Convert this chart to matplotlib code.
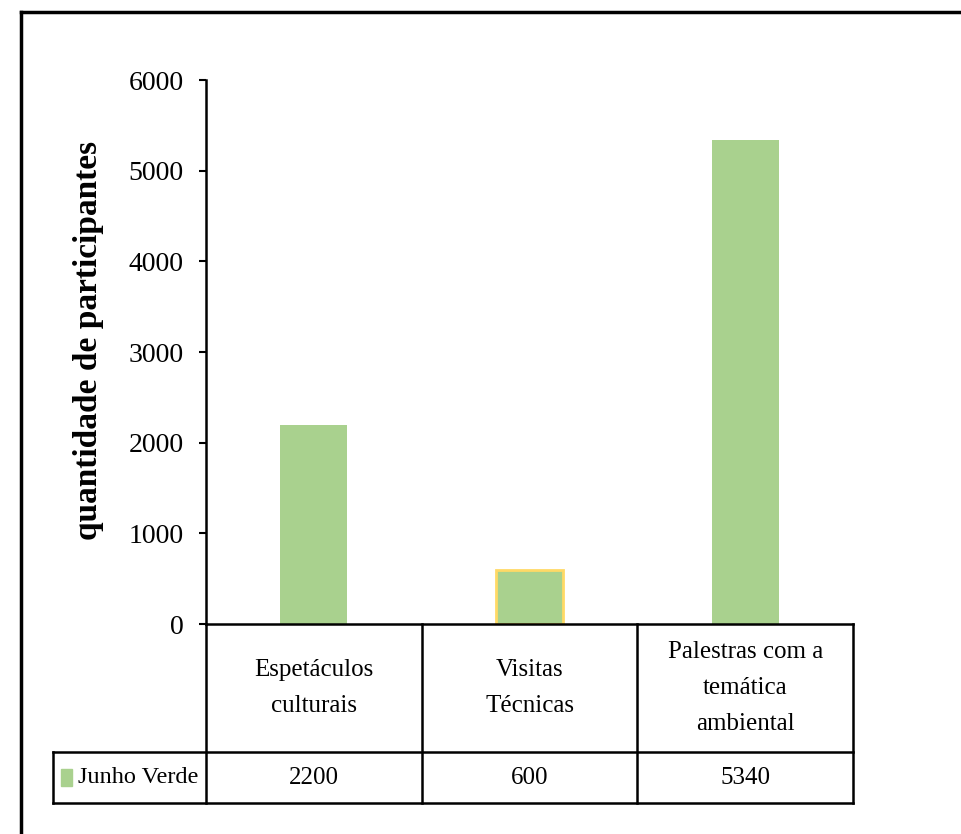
import matplotlib.pyplot as plt
import matplotlib.transforms as mtransforms
from matplotlib.lines import Line2D
from matplotlib.patches import Rectangle

categorias = ["Espetáculos\nculturais", "Visitas\nTécnicas", "Palestras com a\ntemática\nambiental"]
valores = [2200, 600, 5340]
serie = "Junho Verde"
yticks = [0, 1000, 2000, 3000, 4000, 5000, 6000]

verde = "#A9D18E"
borda = ["none", "#FFD966", "none"]

plt.rcParams['font.family'] = ['Liberation Serif', 'DejaVu Serif']

fig = plt.figure(figsize=(9.61, 8.34), dpi=100)
ax = fig.add_axes([206/961, 1-624/834, 647/961, 544/834])

x = list(range(len(categorias)))
for i in x:
    ax.bar(i, valores[i], width=0.31, color=verde,
           edgecolor=borda[i], linewidth=2 if borda[i] != "none" else 0)

ax.set_xlim(-0.5, len(categorias) - 0.5)
ax.set_ylim(0, 6000)
ax.set_yticks(yticks)
ax.set_xticks([])
ax.tick_params(axis='y', labelsize=20, length=5, width=1.5, pad=11)
for s in ['top', 'right']:
    ax.spines[s].set_visible(False)
ax.spines['left'].set_linewidth(1.8)
ax.spines['bottom'].set_linewidth(1.8)
ax.set_ylabel("quantidade de participantes", fontsize=24, fontweight='bold')
ax.yaxis.set_label_coords(-0.158, 0.522)

# tabela de dados por baixo do eixo
tr = mtransforms.blended_transform_factory(ax.transData, ax.transAxes)
h1 = -128/544
h2 = -(128+51)/544
xleg = -0.5 - 153/(647/3)
lw = 1.8
def linha(xs, ys):
    ax.add_line(Line2D(xs, ys, transform=tr, color='black', lw=lw, clip_on=False))

linha([-0.5, -0.5], [0, h2])
for i in x:
    linha([i+0.5, i+0.5], [0, h2])
linha([xleg, len(x)-0.5], [h1, h1])
linha([xleg, len(x)-0.5], [h2, h2])
linha([xleg, xleg], [h1, h2])

for i in x:
    ax.text(i, h1/2, categorias[i], transform=tr, ha='center', va='center',
            fontsize=18, linespacing=1.85)
    ax.text(i, (h1+h2)/2, str(valores[i]), transform=tr, ha='center', va='center',
            fontsize=18)

ax.add_patch(Rectangle((xleg + 0.035, (h1+h2)/2 - 0.016), 0.055, 0.032, transform=tr,
                       color=verde, clip_on=False))
ax.text(xleg + 0.115, (h1+h2)/2, serie, transform=tr, ha='left', va='center', fontsize=17.5)

# moldura externa
fig.add_artist(Line2D([21/961, 21/961], [0, 1-12/834], transform=fig.transFigure,
                      color='black', lw=2.5))
fig.add_artist(Line2D([21/961, 1], [1-12/834, 1-12/834], transform=fig.transFigure,
                      color='black', lw=2.5))

fig.savefig("out.png", dpi=100)
